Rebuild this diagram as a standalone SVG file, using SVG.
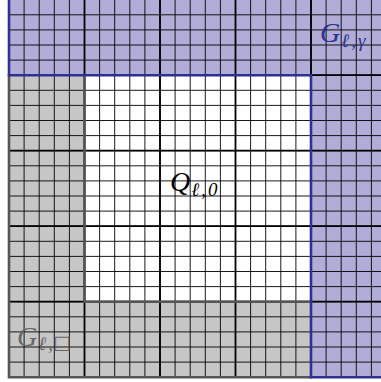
<svg xmlns="http://www.w3.org/2000/svg" width="381" height="382" viewBox="0 0 381 382">
<style>
.fine{fill:none;stroke:#000;stroke-width:0.9}
.thick{fill:none;stroke:#000;stroke-width:1.8}
.bblue{fill:none;stroke:#2e3192;stroke-width:2.6;stroke-linecap:square}
.bgray{fill:none;stroke:#555;stroke-width:2.6;stroke-linecap:square}
.t{font-family:"Liberation Serif","DejaVu Serif",serif;font-style:italic}
.big{font-size:28px}
.sub{font-size:19px;letter-spacing:2px}
</style>
<rect width="381" height="382" fill="#fff"/>
<g id="fills">
<path d="M9 -0.3H386.5V377.2H311V75.2H9Z" fill="#b1add8"/>
<path d="M9 75.2H311V377.2H9Z" fill="#c6c6c6"/>
<rect x="84.5" y="75.2" width="226.5" height="226.5" fill="#fff"/>
</g>
<g id="grid">
<path class="fine" d="M9 -0.3V377.2M24.1 -0.3V377.2M39.2 -0.3V377.2M54.3 -0.3V377.2M69.4 -0.3V377.2M84.5 -0.3V377.2M99.6 -0.3V377.2M114.7 -0.3V377.2M129.8 -0.3V377.2M144.9 -0.3V377.2M160 -0.3V377.2M175.1 -0.3V377.2M190.2 -0.3V377.2M205.3 -0.3V377.2M220.4 -0.3V377.2M235.5 -0.3V377.2M250.6 -0.3V377.2M265.7 -0.3V377.2M280.8 -0.3V377.2M295.9 -0.3V377.2M311 -0.3V377.2M326.1 -0.3V377.2M341.2 -0.3V377.2M356.3 -0.3V377.2M371.4 -0.3V377.2"/>
<path class="fine" d="M9 14.8H386.5M9 29.9H386.5M9 45H386.5M9 60.1H386.5M9 75.2H386.5M9 90.3H386.5M9 105.4H386.5M9 120.5H386.5M9 135.6H386.5M9 150.7H386.5M9 165.8H386.5M9 180.9H386.5M9 196H386.5M9 211.1H386.5M9 226.2H386.5M9 241.3H386.5M9 256.4H386.5M9 271.5H386.5M9 286.6H386.5M9 301.7H386.5M9 316.8H386.5M9 331.9H386.5M9 347H386.5M9 362.1H386.5M9 377.2H386.5"/>
<path class="thick" d="M9 -0.3V377.2M84.5 -0.3V377.2M160 -0.3V377.2M235.5 -0.3V377.2M311 -0.3V377.2M9 75.2H386.5M9 150.7H386.5M9 226.2H386.5M9 301.7H386.5M9 377.2H386.5"/>
</g>
<g id="G-box">
<path class="bgray" d="M9 75.2V377.2H311M84.5 75.2V301.7H311"/>
</g>
<g id="G-gamma">
<path class="bblue" d="M9 -2V75.2H311V377.2H390"/>
</g>
<g id="labels">
<text class="t big" x="320" y="42" fill="#2e3192">G<tspan class="sub" dx="1" dy="5">ℓ,γ</tspan></text>
<text class="t big" x="170" y="191" fill="#000">Q<tspan class="sub" dx="1" dy="5">ℓ,0</tspan></text>
<text class="t big" x="17" y="346" fill="#666">G<tspan class="sub" dx="1" dy="4">ℓ,</tspan><tspan font-size="24px" font-style="normal" dy="1">□</tspan></text>
</g>
</svg>
